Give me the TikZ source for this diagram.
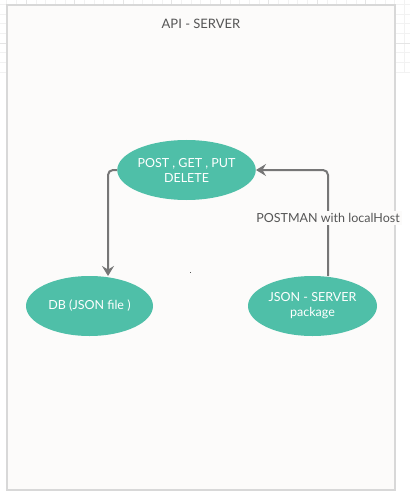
\documentclass[tikz,border=0pt]{standalone}
\usepackage{fontspec}
\setmainfont{Lato}
\usepackage{tikz}
\usetikzlibrary{arrows.meta,shapes.geometric}
\definecolor{teal}{HTML}{4FBFA8}
\definecolor{linegray}{HTML}{767676}
\definecolor{boxgray}{HTML}{D8D8D8}
\definecolor{paper}{HTML}{FCFBFA}
\definecolor{textgray}{HTML}{555555}

\begin{document}
\begin{tikzpicture}[x=1pt, y=-1pt,
  bubble/.style={ellipse, fill=teal, text=white, minimum width=127pt,
    minimum height=60pt, inner sep=0pt, align=center,
    font=\fontsize{12.5}{15}\selectfont},
  link/.style={draw=linegray, line width=2pt, rounded corners=5pt,
    -{Stealth[length=10pt,width=12pt,inset=3.5pt]}}]
\useasboundingbox (0,0) rectangle (409,497);
\draw[black!5, line width=0.4pt, step=9.7pt, shift={(26pt,-43pt)}] (-30,30) grid (390,-460);
\draw[black!10, line width=0.6pt, step=48.5pt, shift={(26pt,-43pt)}] (-30,30) grid (390,-460);
\draw[boxgray, fill=paper, line width=1.6pt] (7,5) rectangle (395,490);
\node[text=textgray, font=\fontsize{13}{15}\selectfont] (title) at (201,24) {API - SERVER};

\node[bubble] (verbs) at (186.5,170) {POST , GET , PUT\\DELETE};
\node[bubble] (db) at (89.5,306) {DB (JSON file )};
\node[bubble, minimum width=129pt] (jsonsrv) at (312.5,306) {JSON - SERVER\\package};
\node[fill=textgray, inner sep=0.5pt] (dot) at (190,272) {};

% connectors
\coordinate (dbtop) at (108,276);
\coordinate (srvtop) at (328,276);
\draw[link] (verbs.west) -| (dbtop);
\draw[link] (srvtop) |- (verbs.east);
\node[fill=paper, text=textgray, inner sep=2pt,
  font=\fontsize{12.5}{15}\selectfont] (postman) at (328,218) {POSTMAN with localHost};
\end{tikzpicture}
\end{document}
